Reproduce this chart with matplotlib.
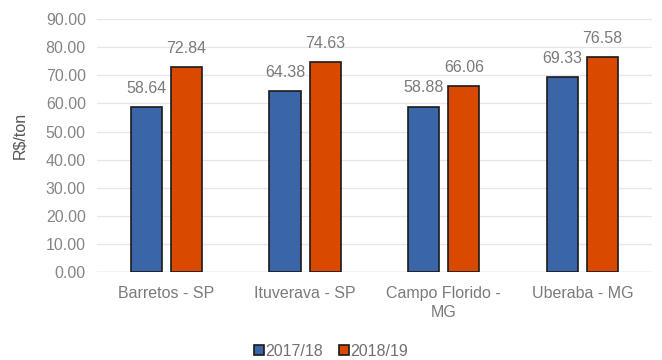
import matplotlib
matplotlib.use("Agg")
import matplotlib.pyplot as plt
import numpy as np

plt.rcParams['font.family'] = ['Liberation Sans', 'DejaVu Sans']

categories = ["Barretos - SP", "Ituverava - SP", "Campo Florido -\nMG", "Uberaba - MG"]
series_names = ["2017/18", "2018/19"]
values_1718 = [58.64, 64.38, 58.88, 69.33]
values_1819 = [72.84, 74.63, 66.06, 76.58]
yticks = [0, 10, 20, 30, 40, 50, 60, 70, 80, 90]

blue = "#3A66A8"
orange = "#D94A00"
grey = "#858585"

fig = plt.figure(figsize=(6.62, 3.6), dpi=100)
ax = fig.add_axes([0.1465, 0.244, 0.838, 0.703])

x = np.arange(len(categories))
w = 0.225
off = 0.145
b1 = ax.bar(x - off, values_1718, w, color=blue, edgecolor="#1a1a1a", linewidth=1.2, label=series_names[0], zorder=3)
b2 = ax.bar(x + off, values_1819, w, color=orange, edgecolor="#1a1a1a", linewidth=1.2, label=series_names[1], zorder=3)

for bars, vals in ((b1, values_1718), (b2, values_1819)):
    for r, v in zip(bars, vals):
        ax.text(r.get_x() + r.get_width() / 2, v + 4, f"{v:.2f}", ha="center", va="bottom",
                fontsize=11.5, color="#7a7a7a")

ax.set_ylim(0, 90)
ax.set_xlim(-0.5, len(categories) - 0.5)
ax.set_yticks(yticks)
ax.set_yticklabels([f"{t:.2f}" for t in yticks], fontsize=11.5, color=grey)
ax.set_xticks(x)
ax.set_xticklabels(categories, fontsize=11.5, color="#7a7a7a", linespacing=1.3)
ax.tick_params(axis="both", length=0, pad=8)
ax.tick_params(axis="x", pad=10)
ax.grid(axis="y", color="#e6e6e6", linewidth=0.9, zorder=0)
for s in ax.spines.values():
    s.set_visible(False)
ax.axhline(0, color="#d9d9d9", linewidth=1, zorder=2)

fig.text(0.03, 0.625, "R$/ton", rotation=90, ha="center", va="center", fontsize=11.5, color="#555555")

leg = fig.legend(handles=[b1, b2], labels=series_names, loc="center", bbox_to_anchor=(0.5, 0.025),
                 ncol=2, frameon=False, fontsize=11.5, handlelength=0.6, handleheight=0.6,
                 handletextpad=0.1, columnspacing=1.0, labelcolor="#707070")

fig.savefig("out.png", dpi=100)
